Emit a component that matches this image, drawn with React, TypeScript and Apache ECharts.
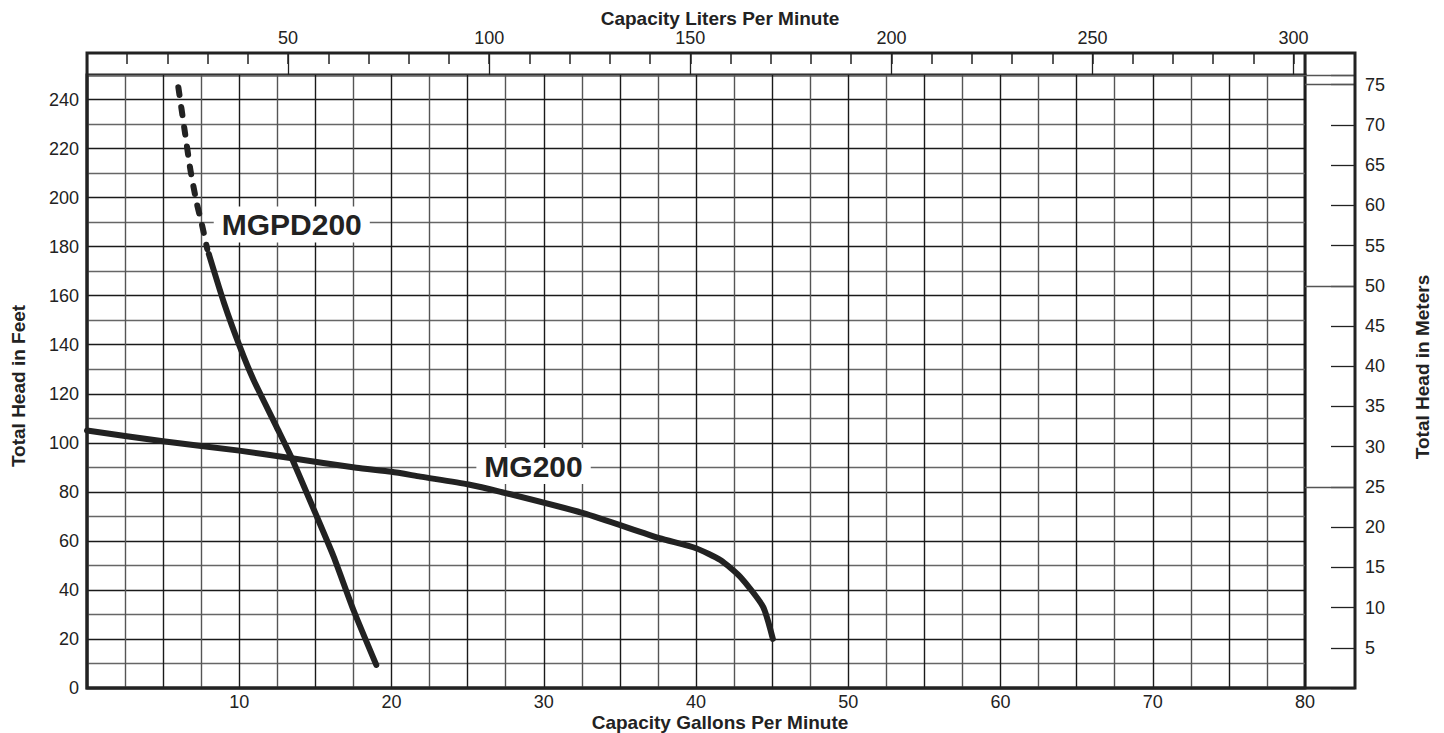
import React, { useEffect, useRef } from "react";
import * as echarts from "echarts";

// ---- data ----
const GPM_MAX = 80;
const FEET_MAX = 250;
const LPM_PER_GPM = 3.78541;
const M_PER_FT = 0.3048;

const mg200: [number, number][] = [
  [0, 105], [5, 100.6], [10, 96.8], [13.35, 93.8], [17.7, 89.8], [20, 88.2],
  [21.9, 86.2], [25.06, 83], [27.1, 80.1], [32.6, 71.3], [37.6, 61.1], [40, 57],
  [41.6, 52.2], [42.9, 45.4], [44.4, 33.2], [45.05, 20],
];
const mgpd200Solid: [number, number][] = [
  [8.0, 177], [9.0, 157], [10.05, 139], [10.95, 125.5], [12.45, 106.5],
  [13.45, 93.7], [15.0, 71.3], [16.2, 53.6], [17.5, 31.8], [19.0, 9.4],
];
const mgpd200Dashed: [number, number][] = [
  [6.0, 245], [6.4, 228], [6.8, 211], [7.2, 198], [7.55, 189], [7.9, 179],
];
const curveLabels = [
  { name: "MGPD200", coord: [13.45, 189] },
  { name: "MG200", coord: [29.33, 90.5] },
];
const titles = {
  bottom: "Capacity Gallons Per Minute",
  top: "Capacity Liters Per Minute",
  left: "Total Head in Feet",
  right: "Total Head in Meters",
};

const FONT = "'Liberation Sans', Arial, Helvetica, sans-serif";
const INK = "#222";

export default function App() {
  const ref = useRef<HTMLDivElement>(null);
  useEffect(() => {
    document.body.style.margin = "0";
    const chart = echarts.init(ref.current!, undefined, { renderer: "svg" });
    const lineStyleCurve = { color: INK, width: 6, cap: "round" as const, join: "round" as const };
    const tickLbl = { color: INK, fontSize: 18, fontFamily: FONT };
    const L = 87, T = 75, W = 1218, H = 613, BAND_T = 22, BAND_R = 50;
    const LPM_MAX = GPM_MAX * LPM_PER_GPM;
    const M_MAX = FEET_MAX * M_PER_FT;
    const noLine = { show: false, onZero: false };
    chart.setOption({
      animation: false,
      backgroundColor: "#fff",
      grid: [
        { left: L, top: T, width: W, height: H, show: true, borderColor: INK, borderWidth: 3, backgroundColor: "transparent" },
      ],
      xAxis: [
        {
          type: "value", min: 0, max: GPM_MAX, interval: 2.5, position: "bottom",
          axisLine: noLine, axisTick: { show: false },
          axisLabel: {
            ...tickLbl, margin: 5,
            formatter: (v: number) => (v > 0 && v % 10 === 0 ? String(v) : ""),
          },
          splitLine: { show: true, lineStyle: { color: ["#1a1a1a", "#555"], width: 1.4 } },
        },
        {
          type: "value", min: 0, max: LPM_MAX, interval: 10, position: "top", offset: BAND_T,
          axisLine: noLine,
          axisTick: { show: true, inside: true, length: 11, lineStyle: { color: INK, width: 1.5 } },
          axisLabel: { show: false },
          splitLine: { show: false },
        },
        {
          type: "value", min: 0, max: LPM_MAX, interval: 50, position: "top", offset: BAND_T,
          axisLine: noLine,
          axisTick: { show: true, inside: true, length: BAND_T, lineStyle: { color: INK, width: 1.3 } },
          axisLabel: {
            ...tickLbl, margin: 6,
            formatter: (v: number) => (v > 0 && Math.abs(v % 50) < 1e-6 ? String(v) : ""),
          },
          splitLine: { show: false },
        },
      ],
      yAxis: [
        {
          type: "value", min: 0, max: FEET_MAX, interval: 10, position: "left",
          axisLine: noLine, axisTick: { show: false },
          axisLabel: {
            ...tickLbl, margin: 8,
            formatter: (v: number) => (v % 20 === 0 && v < FEET_MAX ? String(v) : ""),
          },
          splitLine: { show: true, lineStyle: { color: ["#1a1a1a", "#666"], width: 1.4 } },
        },
        {
          type: "value", min: 0, max: M_MAX, interval: 5, position: "right", offset: BAND_R,
          axisLine: noLine,
          axisTick: { show: true, inside: true, length: 24, lineStyle: { color: INK, width: 1.3 } },
          axisLabel: {
            ...tickLbl, margin: 10,
            formatter: (v: number) => (v > 0 && v % 5 === 0 ? String(v) : ""),
          },
          splitLine: { show: false },
        },
        {
          type: "value", min: 0, max: M_MAX, interval: 25, position: "right", offset: BAND_R,
          axisLine: noLine,
          axisTick: { show: true, inside: true, length: BAND_R, lineStyle: { color: "#555", width: 1.3 } },
          axisLabel: { show: false },
          splitLine: { show: false },
        },
      ],
      series: [
        {
          name: "MG200", type: "line", xAxisIndex: 0, yAxisIndex: 0, data: mg200,
          showSymbol: false, smooth: 0.2, lineStyle: lineStyleCurve, z: 5,
        },
        {
          name: "MGPD200", type: "line", xAxisIndex: 0, yAxisIndex: 0, data: mgpd200Solid,
          showSymbol: false, smooth: 0.2, lineStyle: lineStyleCurve, z: 5,
        },
        {
          name: "MGPD200 dashed", type: "line", xAxisIndex: 0, yAxisIndex: 0, data: mgpd200Dashed,
          showSymbol: false, smooth: 0.2, z: 5,
          lineStyle: { ...lineStyleCurve, type: [8, 12], dashOffset: 0 },
        },
        {
          name: "labels", type: "scatter", xAxisIndex: 0, yAxisIndex: 0, data: [], z: 6,
          markPoint: {
            symbol: "rect", symbolSize: 1, itemStyle: { color: "transparent" },
            label: {
              show: true, position: "inside", color: INK, fontSize: 30, fontWeight: "bold",
              fontFamily: FONT, backgroundColor: "#fff", padding: [3, 8],
              formatter: (p: any) => p.name,
            },
            data: curveLabels.map((l) => ({ name: l.name, coord: l.coord })),
          },
        },
      ],
      graphic: [
        {
          type: "rect", shape: { x: L, y: T - BAND_T, width: W + BAND_R, height: H + BAND_T },
          style: { fill: "none", stroke: INK, lineWidth: 3 }, z: 10, silent: true,
        },
        {
          type: "line", shape: { x1: L + W, y1: T - BAND_T, x2: L + W, y2: T },
          style: { stroke: INK, lineWidth: 3 }, z: 10, silent: true,
        },
        {
          type: "text", x: 720, y: 18,
          style: { text: titles.top, font: `bold 19px ${FONT}`, fill: INK, textAlign: "center", textVerticalAlign: "middle" },
        },
        {
          type: "text", x: 720, y: 722,
          style: { text: titles.bottom, font: `bold 19px ${FONT}`, fill: INK, textAlign: "center", textVerticalAlign: "middle" },
        },
        {
          type: "text", x: 18, y: 386, rotation: Math.PI / 2,
          style: { text: titles.left, font: `bold 19px ${FONT}`, fill: INK, textAlign: "center", textVerticalAlign: "middle" },
        },
        {
          type: "text", x: 1422, y: 367, rotation: Math.PI / 2,
          style: { text: titles.right, font: `bold 19px ${FONT}`, fill: INK, textAlign: "center", textVerticalAlign: "middle" },
        },
      ],
    });
    return () => chart.dispose();
  }, []);
  return <div ref={ref} style={{ width: 1444, height: 733 }} />;
}
